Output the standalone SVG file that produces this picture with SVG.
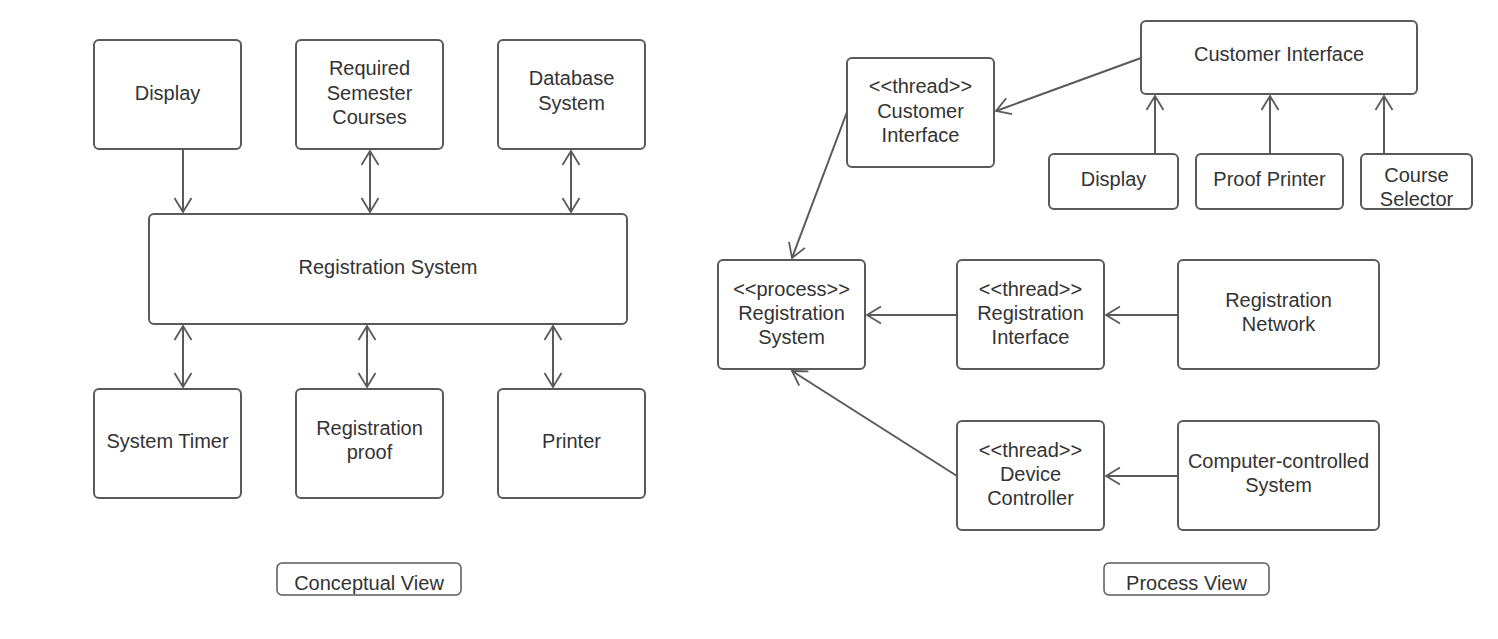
<svg xmlns="http://www.w3.org/2000/svg" width="1498" height="639" viewBox="0 0 1498 639">
<style>
.b{fill:#fff;stroke:#5a5a5a;stroke-width:2}
.t{font-family:"Liberation Sans",Arial,sans-serif;font-size:20px;fill:#333;text-anchor:middle}
.c{fill:none;stroke:#5a5a5a;stroke-width:2}
</style>
<defs>
<marker id="a" viewBox="0 0 18 20" refX="16" refY="10" markerWidth="18" markerHeight="20" markerUnits="userSpaceOnUse" orient="auto-start-reverse">
<path d="M2,1.5 L16,10 L2,18.5" fill="none" stroke="#5a5a5a" stroke-width="1.8"/>
</marker>
</defs>
<rect width="1498" height="639" fill="#fff"/>
<g id="connectors">
<line class="c" x1="183" y1="150" x2="183" y2="212" marker-end="url(#a)"/>
<line class="c" x1="370" y1="151" x2="370" y2="212" marker-start="url(#a)" marker-end="url(#a)"/>
<line class="c" x1="571" y1="151" x2="571" y2="212" marker-start="url(#a)" marker-end="url(#a)"/>
<line class="c" x1="183" y1="326" x2="183" y2="387" marker-start="url(#a)" marker-end="url(#a)"/>
<line class="c" x1="367" y1="326" x2="367" y2="387" marker-start="url(#a)" marker-end="url(#a)"/>
<line class="c" x1="553" y1="326" x2="553" y2="387" marker-start="url(#a)" marker-end="url(#a)"/>
<line class="c" x1="1141" y1="58" x2="996" y2="111" marker-end="url(#a)"/>
<line class="c" x1="1155" y1="154" x2="1155" y2="96" marker-end="url(#a)"/>
<line class="c" x1="1270" y1="154" x2="1270" y2="96" marker-end="url(#a)"/>
<line class="c" x1="1384" y1="154" x2="1384" y2="96" marker-end="url(#a)"/>
<line class="c" x1="847" y1="112" x2="792" y2="258" marker-end="url(#a)"/>
<line class="c" x1="957" y1="315" x2="867" y2="315" marker-end="url(#a)"/>
<line class="c" x1="1178" y1="315" x2="1106" y2="315" marker-end="url(#a)"/>
<line class="c" x1="1178" y1="476" x2="1106" y2="476" marker-end="url(#a)"/>
<line class="c" x1="957" y1="476" x2="792" y2="371" marker-end="url(#a)"/>
</g>
<g id="display">
<rect class="b" x="94" y="40" width="147" height="109" rx="5"/>
<text class="t" x="167.5" y="100">Display</text>
</g>
<g id="required-semester-courses">
<rect class="b" x="296" y="40" width="147" height="109" rx="5"/>
<text class="t" x="369.5" y="75">Required</text>
<text class="t" x="369.5" y="100">Semester</text>
<text class="t" x="369.5" y="124">Courses</text>
</g>
<g id="database-system">
<rect class="b" x="498" y="40" width="147" height="109" rx="5"/>
<text class="t" x="571.5" y="85">Database</text>
<text class="t" x="571.5" y="110">System</text>
</g>
<g id="registration-system">
<rect class="b" x="149" y="214" width="478" height="110" rx="5"/>
<text class="t" x="388" y="274">Registration System</text>
</g>
<g id="system-timer">
<rect class="b" x="94" y="389" width="147" height="109" rx="5"/>
<text class="t" x="167.5" y="448">System Timer</text>
</g>
<g id="registration-proof">
<rect class="b" x="296" y="389" width="147" height="109" rx="5"/>
<text class="t" x="369.5" y="435">Registration</text>
<text class="t" x="369.5" y="459">proof</text>
</g>
<g id="printer">
<rect class="b" x="498" y="389" width="147" height="109" rx="5"/>
<text class="t" x="571.5" y="448">Printer</text>
</g>
<g id="conceptual-view">
<rect class="b" x="277" y="563" width="184" height="32" rx="5" style="stroke-width:1.5"/>
<text class="t" x="369" y="590">Conceptual View</text>
</g>
<g id="customer-interface">
<rect class="b" x="1141" y="21" width="276" height="73" rx="5"/>
<text class="t" x="1279" y="61">Customer Interface</text>
</g>
<g id="thread-customer-interface">
<rect class="b" x="847" y="58" width="147" height="109" rx="5"/>
<text class="t" x="920.5" y="93">&lt;&lt;thread&gt;&gt;</text>
<text class="t" x="920.5" y="118">Customer</text>
<text class="t" x="920.5" y="142">Interface</text>
</g>
<g id="display-2">
<rect class="b" x="1049" y="154" width="129" height="55" rx="5"/>
<text class="t" x="1113.5" y="186">Display</text>
</g>
<g id="proof-printer">
<rect class="b" x="1196" y="154" width="147" height="55" rx="5"/>
<text class="t" x="1269.5" y="186">Proof Printer</text>
</g>
<g id="course-selector">
<rect class="b" x="1361" y="154" width="111" height="55" rx="5"/>
<text class="t" x="1416.5" y="182">Course</text>
<text class="t" x="1416.5" y="206">Selector</text>
</g>
<g id="process-registration-system">
<rect class="b" x="718" y="260" width="147" height="109" rx="5"/>
<text class="t" x="791.5" y="296">&lt;&lt;process&gt;&gt;</text>
<text class="t" x="791.5" y="320">Registration</text>
<text class="t" x="791.5" y="344">System</text>
</g>
<g id="thread-registration-interface">
<rect class="b" x="957" y="260" width="147" height="109" rx="5"/>
<text class="t" x="1030.5" y="296">&lt;&lt;thread&gt;&gt;</text>
<text class="t" x="1030.5" y="320">Registration</text>
<text class="t" x="1030.5" y="344">Interface</text>
</g>
<g id="registration-network">
<rect class="b" x="1178" y="260" width="201" height="109" rx="5"/>
<text class="t" x="1278.5" y="307">Registration</text>
<text class="t" x="1278.5" y="331">Network</text>
</g>
<g id="thread-device-controller">
<rect class="b" x="957" y="421" width="147" height="109" rx="5"/>
<text class="t" x="1030.5" y="457">&lt;&lt;thread&gt;&gt;</text>
<text class="t" x="1030.5" y="481">Device</text>
<text class="t" x="1030.5" y="505">Controller</text>
</g>
<g id="computer-controlled-system">
<rect class="b" x="1178" y="421" width="201" height="109" rx="5"/>
<text class="t" x="1278.5" y="468">Computer-controlled</text>
<text class="t" x="1278.5" y="492">System</text>
</g>
<g id="process-view">
<rect class="b" x="1104" y="563" width="165" height="32" rx="5" style="stroke-width:1.5"/>
<text class="t" x="1186.5" y="590">Process View</text>
</g>
</svg>
